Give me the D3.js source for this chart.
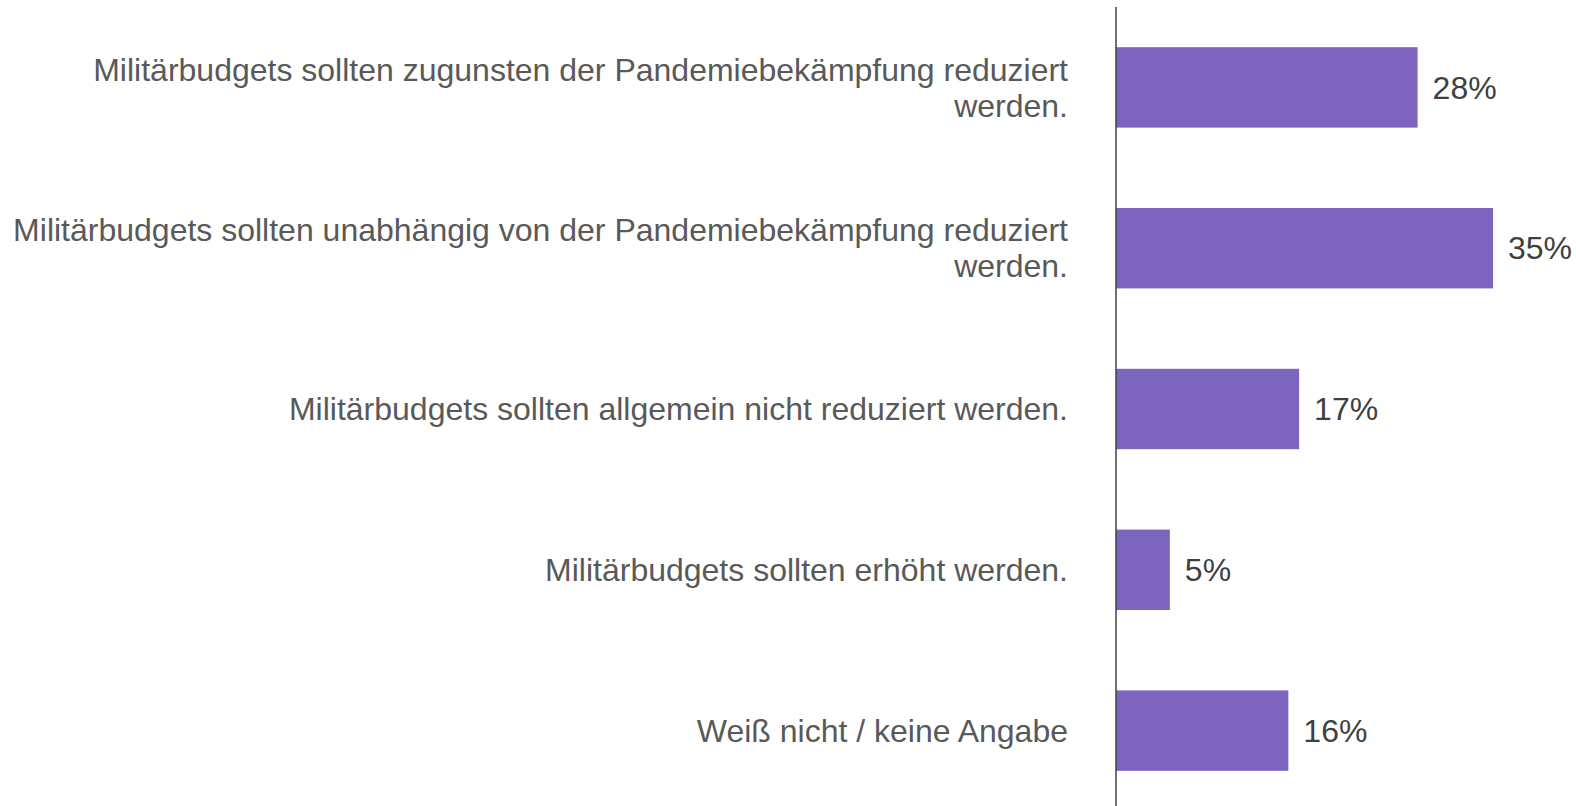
<!DOCTYPE html>
<html>
<head>
<meta charset="utf-8">
<script src="https://cdn.jsdelivr.net/npm/d3@7"></script>
<style>
  html, body { margin: 0; padding: 0; background: #fff; }
  svg { display: block; font-family: "Liberation Sans", Arial, sans-serif; }
</style>
</head>
<body>
<div id="chart"></div>
<script>
// categories (each entry is a list of label lines)
const categories = [
  ["Militärbudgets sollten zugunsten der Pandemiebekämpfung reduziert", "werden."],
  ["Militärbudgets sollten unabhängig von der Pandemiebekämpfung reduziert", "werden."],
  ["Militärbudgets sollten allgemein nicht reduziert werden."],
  ["Militärbudgets sollten erhöht werden."],
  ["Weiß nicht / keine Angabe"]
];
const values = [28, 35, 17, 5, 16];

const width = 1576, height = 806;
const axisX = 1116;

const svg = d3.select("#chart").append("svg")
  .attr("width", width)
  .attr("height", height);

const x = d3.scaleLinear()
  .domain([0, 35])
  .range([axisX, 1493]);

const y = d3.scaleBand()
  .domain(d3.range(values.length))
  .range([7, 811])
  .paddingInner(0.5)
  .paddingOuter(0.25);

// bars
svg.selectAll("rect.bar")
  .data(values)
  .enter().append("rect")
  .attr("class", "bar")
  .attr("x", x(0))
  .attr("y", (d, i) => y(i))
  .attr("width", d => x(d) - x(0))
  .attr("height", y.bandwidth())
  .attr("fill", "#7d64bf");

// value labels
svg.selectAll("text.value")
  .data(values)
  .enter().append("text")
  .attr("class", "value")
  .attr("x", d => x(d) + 15)
  .attr("y", (d, i) => y(i) + y.bandwidth() / 2)
  .attr("dy", "0.35em")
  .attr("font-size", 32)
  .attr("fill", "#404040")
  .text(d => d + "%");

// category labels
const lineH = 36;
const labels = svg.selectAll("text.cat")
  .data(categories)
  .enter().append("text")
  .attr("class", "cat")
  .attr("text-anchor", "end")
  .attr("font-size", 32)
  .attr("fill", "#595959")
  .attr("transform", (d, i) => "translate(" + (axisX - 48) + "," + (y(i) + y.bandwidth() / 2) + ")");

labels.selectAll("tspan")
  .data(d => d.map((t, k) => ({ t: t, k: k, n: d.length })))
  .enter().append("tspan")
  .attr("x", 0)
  .attr("y", d => (d.k - (d.n - 1) / 2) * lineH)
  .attr("dy", "0.35em")
  .text(d => d.t);

// vertical axis line
svg.append("line")
  .attr("x1", axisX).attr("x2", axisX)
  .attr("y1", 7).attr("y2", height)
  .attr("stroke", "#404040")
  .attr("stroke-width", 1.5);
</script>
</body>
</html>
